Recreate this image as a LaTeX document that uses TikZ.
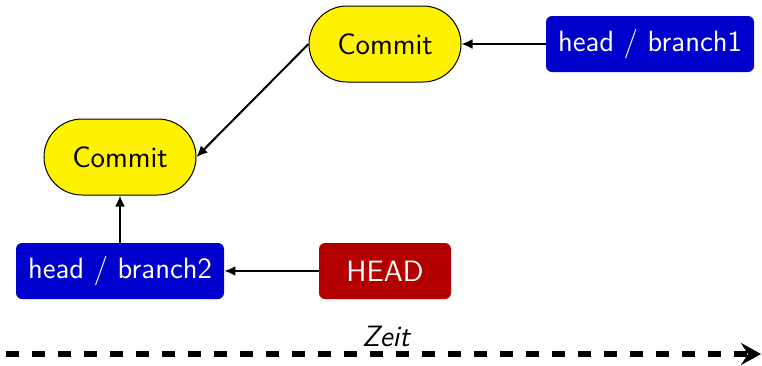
\documentclass[tikz,border=0pt]{standalone}
\usetikzlibrary{arrows.meta}
\definecolor{cyell}{RGB}{255,242,0}
\definecolor{cblue}{RGB}{0,0,204}
\definecolor{cred}{RGB}{178,0,0}
\begin{document}
\begin{tikzpicture}[x=0.5pt,y=-0.5pt,
  font=\sffamily\fontsize{14.7}{17}\selectfont,
  commitbox/.style={draw=black,line width=0.5pt,fill=cyell,rounded corners=19pt,
    minimum width=76pt,minimum height=38pt,inner sep=0pt},
  branchbox/.style={fill=cblue,text=white,rounded corners=3pt,
    minimum width=104pt,minimum height=28pt,inner sep=0pt},
  headbox/.style={fill=cred,text=white,rounded corners=3pt,
    minimum width=66pt,minimum height=28pt,inner sep=0pt},
  conn/.style={line width=1pt,-{Latex[length=5.5pt,width=5pt]}}]
\useasboundingbox (0,0) rectangle (762,365);
\node[commitbox] (c1) at (385,44) {Commit};
\node[commitbox] (c2) at (120,157) {Commit};
\node[branchbox] (b1) at (650,44) {head / branch1};
\node[branchbox] (b2) at (120,271) {head / branch2};
\node[headbox] (hd) at (385,271) {HEAD};
\draw[conn] (b1) -- (c1);
\draw[conn] (c1.west) -- (c2.east);
\draw[conn] (b2) -- (c2);
\draw[conn] (hd) -- (b2);
\coordinate (t0) at (6,354);
\coordinate (t1) at (761,354);
\draw[line width=3pt,dash pattern=on 6.5pt off 6.5pt,-{Stealth[length=10pt,width=11pt,inset=3.5pt]}] (t0) -- (t1);
\node[anchor=base,inner sep=0pt] (zeit) at (386,346) {\itshape Zeit};
\end{tikzpicture}
\end{document}
